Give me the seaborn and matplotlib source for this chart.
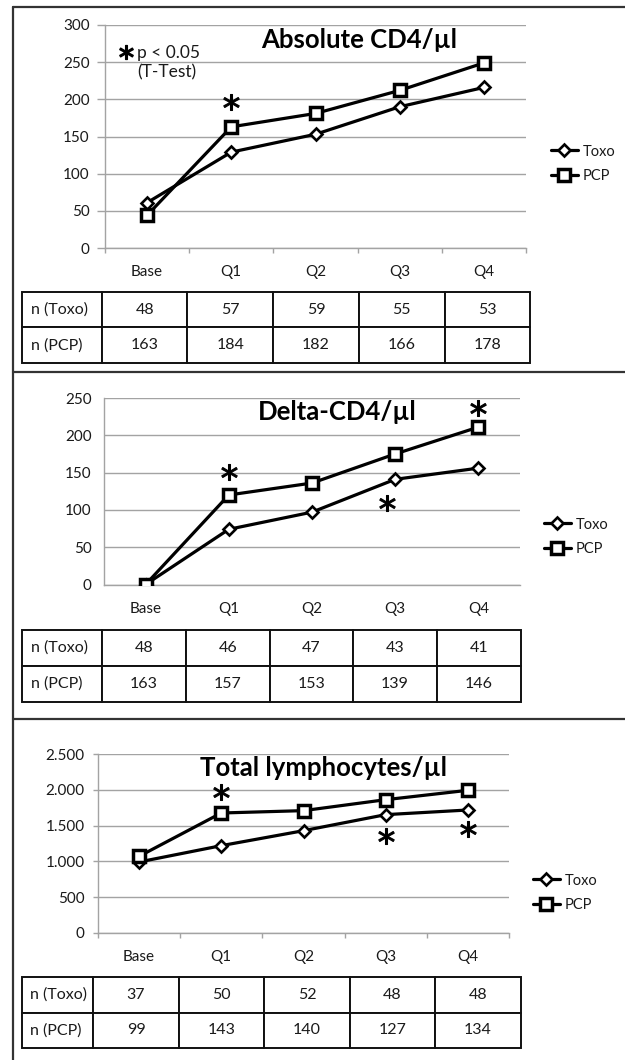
import matplotlib
matplotlib.use("Agg")
import matplotlib.pyplot as plt
import seaborn as sns
import pandas as pd
from matplotlib.lines import Line2D

# ---------------- data ----------------
categories = ["Base", "Q1", "Q2", "Q3", "Q4"]
series_names = ["Toxo", "PCP"]

cd4_title = "Absolute CD4/µl"
cd4_toxo = [61, 129, 153, 190, 216]
cd4_pcp = [44, 163, 181, 212, 249]
cd4_n_toxo = [48, 57, 59, 55, 53]
cd4_n_pcp = [163, 184, 182, 166, 178]
cd4_star_x = [1.0]
cd4_star_y = [196]
cd4_yticks = [0, 50, 100, 150, 200, 250, 300]
cd4_yticklabels = ["0", "50", "100", "150", "200", "250", "300"]

delta_title = "Delta-CD4/µl"
delta_toxo = [0, 74, 97, 141, 156]
delta_pcp = [0, 120, 136, 175, 211]
delta_n_toxo = [48, 46, 47, 43, 41]
delta_n_pcp = [163, 157, 153, 139, 146]
delta_star_x = [1.0, 2.9, 4.0]
delta_star_y = [151, 109, 237]
delta_yticks = [0, 50, 100, 150, 200, 250]
delta_yticklabels = ["0", "50", "100", "150", "200", "250"]

lym_title = "Total lymphocytes/µl"
lym_toxo = [992, 1220, 1429, 1653, 1718]
lym_pcp = [1071, 1676, 1709, 1862, 1993]
lym_n_toxo = [37, 50, 52, 48, 48]
lym_n_pcp = [99, 143, 140, 127, 134]
lym_star_x = [1.0, 3.0, 4.0]
lym_star_y = [1969, 1350, 1457]
lym_yticks = [0, 500, 1000, 1500, 2000, 2500]
lym_yticklabels = ["0", "500", "1.000", "1.500", "2.000", "2.500"]

row_labels = ["n (Toxo)", "n (PCP)"]
sig_label = "p < 0.05"
sig_test = "(T-Test)"

# ---------------- style ----------------
sns.set_theme(style="white")
plt.rcParams["font.family"] = ["Lato", "DejaVu Sans"]

W, H = 625, 1060
fig = plt.figure(figsize=(W / 100, H / 100), dpi=100)
fig.patch.set_facecolor("white")


def frect(l, t, r, b):
    return [l / W, 1 - b / H, (r - l) / W, (b - t) / H]


GRID = "#a3a3a3"
TXT = "#1a1a1a"
TICKFS = 11
TABFS = 11.5
LEGFS = 10.5

panels = [
    dict(title=cd4_title, toxo=cd4_toxo, pcp=cd4_pcp, nt=cd4_n_toxo, np_=cd4_n_pcp,
         sx=cd4_star_x, sy=cd4_star_y, yt=cd4_yticks, ytl=cd4_yticklabels,
         ax=(105, 25, 526, 248), tab=(22, 292, 530, 363), cw=[80, 85, 86, 85, 86, 85],
         leg=(551, 164), ttl=(359, 40), yticklen=5.5, ypad=5.5, xminor=True),
    dict(title=delta_title, toxo=delta_toxo, pcp=delta_pcp, nt=delta_n_toxo, np_=delta_n_pcp,
         sx=delta_star_x, sy=delta_star_y, yt=delta_yticks, ytl=delta_yticklabels,
         ax=(104, 398, 520, 584.5), tab=(22, 630, 521, 702), cw=[80, 84, 84, 83, 84, 84],
         leg=(544, 537), ttl=(337, 412), yticklen=0, ypad=9.0, xminor=False),
    dict(title=lym_title, toxo=lym_toxo, pcp=lym_pcp, nt=lym_n_toxo, np_=lym_n_pcp,
         sx=lym_star_x, sy=lym_star_y, yt=lym_yticks, ytl=lym_yticklabels,
         ax=(98, 754, 509, 933), tab=(22, 977, 521, 1048), cw=[71, 86, 85, 86, 85, 86],
         leg=(533, 893), ttl=(323, 768), yticklen=3.5, ypad=6.0, xminor=True),
]

for i, p in enumerate(panels):
    l, t, r, b = p["ax"]
    ax = fig.add_axes(frect(l, t, r, b))
    df = pd.DataFrame({"cat": categories, "Toxo": p["toxo"], "PCP": p["pcp"]})
    sns.lineplot(data=df, x="cat", y="Toxo", ax=ax, color="black", lw=2.3,
                 marker="D", ms=5.8, mfc="white", mec="black", mew=1.9,
                 label=series_names[0], zorder=4)
    sns.lineplot(data=df, x="cat", y="PCP", ax=ax, color="black", lw=2.3,
                 marker="s", ms=8.6, mfc="white", mec="black", mew=2.5,
                 label=series_names[1], zorder=5)
    ax.plot(p["sx"], p["sy"], ls="none", marker="$*$", ms=11.5, color="black",
            mew=0.8, zorder=6)

    ax.set_xlim(-0.5, 4.5)
    ax.set_ylim(p["yt"][0], p["yt"][-1])
    ax.set_yticks(p["yt"])
    ax.set_yticklabels(p["ytl"])
    ax.set_xlabel("")
    ax.set_ylabel("")
    ax.grid(axis="y", color=GRID, lw=1.0)
    ax.grid(axis="x", visible=False)
    ax.set_axisbelow(True)
    for s in ["top", "right"]:
        ax.spines[s].set_visible(False)
    for s in ["left", "bottom"]:
        ax.spines[s].set_color(GRID)
        ax.spines[s].set_linewidth(1.0)
    ax.tick_params(axis="y", length=p["yticklen"], width=1.0, color=GRID,
                   pad=p["ypad"], labelsize=TICKFS, labelcolor=TXT, left=True)
    ax.tick_params(axis="x", which="major", length=0, pad=12.5, labelsize=TICKFS,
                   labelcolor=TXT, bottom=True)
    if p["xminor"]:
        ax.set_xticks([-0.5, 0.5, 1.5, 2.5, 3.5, 4.5], minor=True)
        ax.tick_params(axis="x", which="minor", length=3.5, width=1.0,
                       color=GRID, bottom=True)

    # title
    tx, ty = p["ttl"]
    fig.text(tx / W, 1 - ty / H, p["title"], ha="center", va="center",
             fontsize=18.5, fontweight="bold", color="black")

    # legend
    lx, ly = p["leg"]
    ax.legend(loc="center left", bbox_to_anchor=(lx / W, 1 - ly / H),
              bbox_transform=fig.transFigure, frameon=False, borderpad=0,
              borderaxespad=0, handlelength=1.85, handletextpad=0.3,
              labelspacing=0.75, fontsize=LEGFS, labelcolor=TXT)

    # table
    tl, tt, tr, tb = p["tab"]
    tax = fig.add_axes(frect(tl, tt, tr, tb))
    tax.axis("off")
    cell_text = [[row_labels[0]] + [str(v) for v in p["nt"]],
                 [row_labels[1]] + [str(v) for v in p["np_"]]]
    tot = sum(p["cw"])
    tbl = tax.table(cellText=cell_text, colWidths=[c / tot for c in p["cw"]],
                    cellLoc="center", bbox=[0, 0, 1, 1])
    tbl.auto_set_font_size(False)
    tbl.set_fontsize(TABFS)
    for (rr, cc), cell in tbl.get_celld().items():
        cell.set_edgecolor("#111111")
        cell.set_linewidth(1.4)
        cell.get_text().set_color(TXT)
        if cc == 0:
            cell.get_text().set_horizontalalignment("left")
            cell.PAD = 0.11

    if i == 0:
        ax.plot([(126 - l) / (r - l)], [(b - 52) / (b - t)], transform=ax.transAxes,
                ls="none", marker="$*$", ms=10, color="black", mew=1.0,
                clip_on=False, zorder=6)
        fig.text(137 / W, 1 - 53 / H, sig_label, ha="left", va="center",
                 fontsize=12.5, color=TXT)
        fig.text(167 / W, 1 - 72 / H, sig_test, ha="center", va="center",
                 fontsize=12.5, color=TXT)

# panel frame lines
BORDER = "#333333"
fig.add_artist(Line2D([13 / W, 13 / W], [1 - 7 / H, 0], transform=fig.transFigure,
                      color=BORDER, lw=1.6))
for yy in [7, 372, 719]:
    fig.add_artist(Line2D([13 / W, 1], [1 - yy / H, 1 - yy / H],
                          transform=fig.transFigure, color=BORDER, lw=1.6))

fig.savefig("out.png", dpi=100, facecolor="white")
